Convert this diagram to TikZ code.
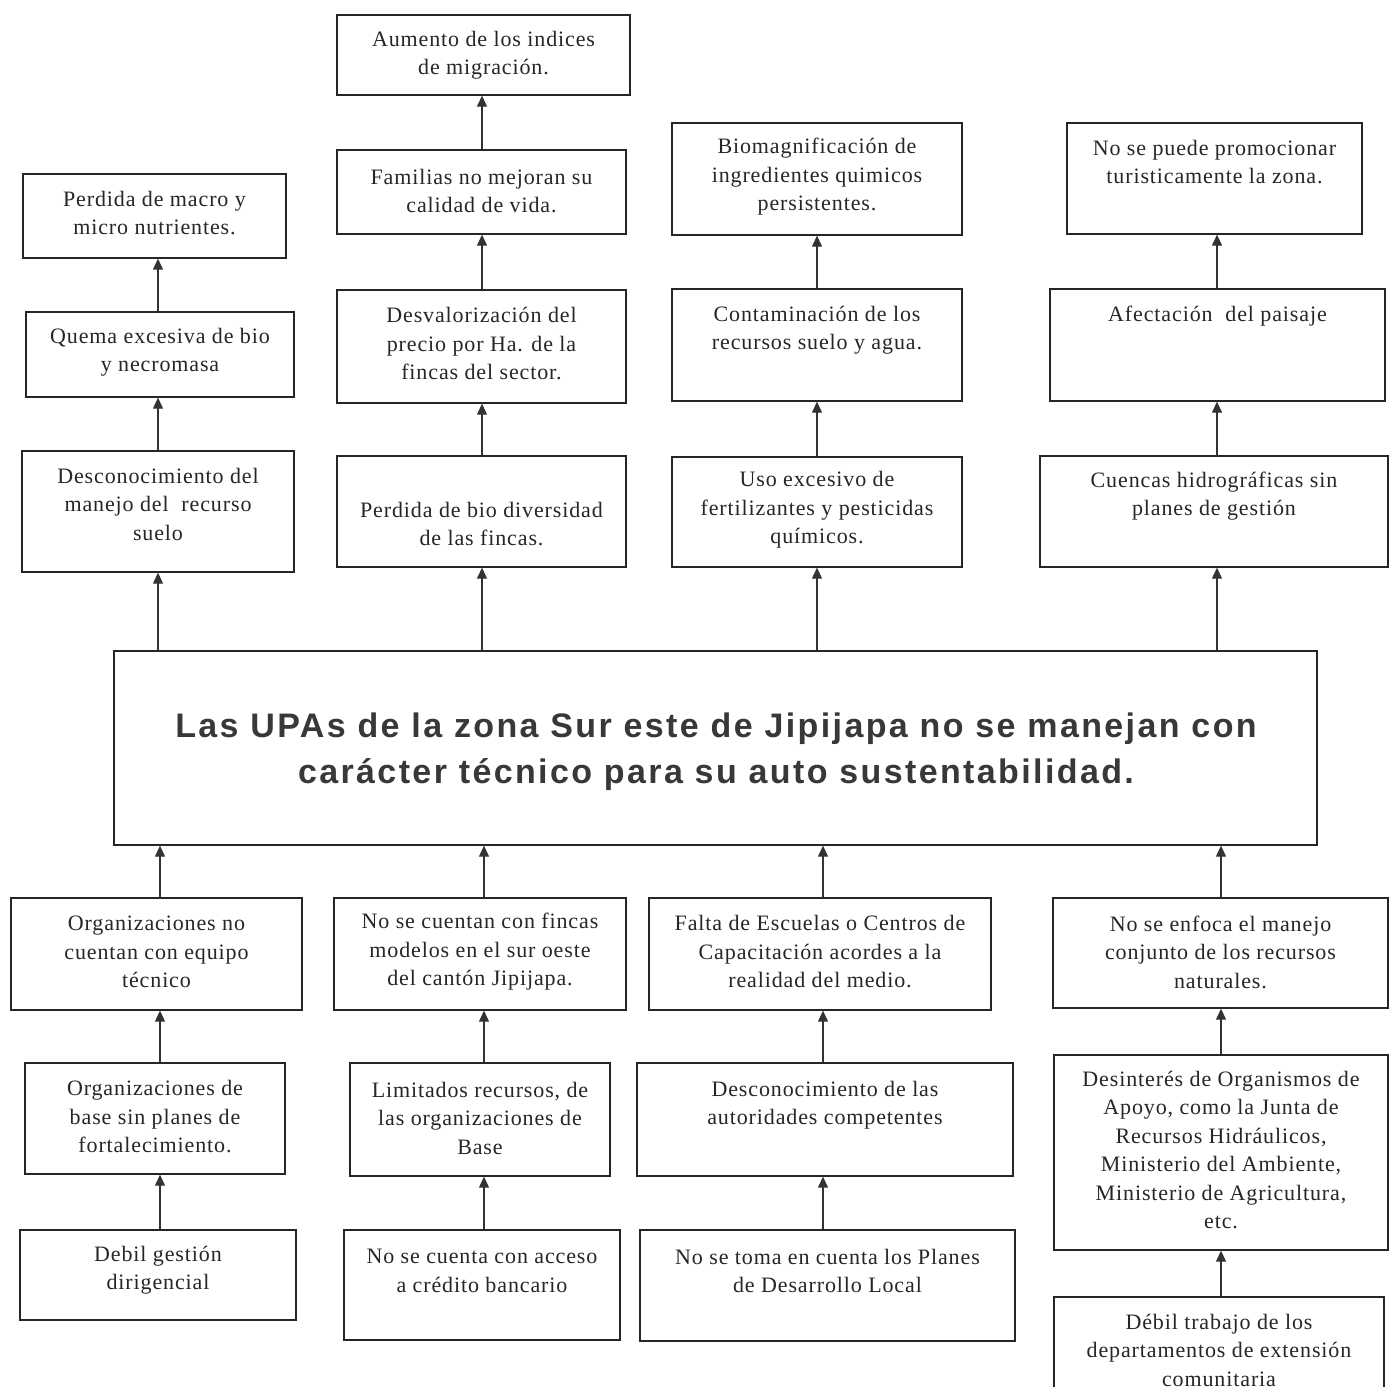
\documentclass[tikz,border=0pt]{standalone}
\usepackage{fontspec}
\setmainfont{Liberation Serif}[LetterSpace=4]
\newfontfamily\headfont{Liberation Sans}[LetterSpace=7]
\usetikzlibrary{arrows.meta,fit}
\tikzset{
  box/.style={draw=black!85, line width=1.3pt, inner sep=0pt, rectangle},
  txt/.style={align=center, font=\fontsize{22}{28.5}\selectfont, text=black!85, inner sep=0pt},
  arr/.style={draw=black!80, line width=1.1pt, -{Triangle[length=11pt,width=10pt]}},
  head/.style={align=center, font=\headfont\bfseries\fontsize{34}{46}\selectfont, text=black!78, inner sep=0pt},
}
\newcommand\bx[7]{%
  \node[box, fit={(#2,#3) (#4,#5)}] (#1) {};
  \node[txt] (#1t) at ({(#2+#4)/2},#6) {#7};
}
\begin{document}
\begin{tikzpicture}[x=1pt,y=-1pt]
\useasboundingbox (0,0) rectangle (1390,1387);
\clip (0,0) rectangle (1390,1387);
\fill[white] (0,0) rectangle (1390,1387);
% column x positions
\coordinate (cA) at (158,0);
\coordinate (cB) at (482,0);
\coordinate (cC) at (817,0);
\coordinate (cD) at (1217,0);
\coordinate (cE) at (160,0);
\coordinate (cF) at (484,0);
\coordinate (cG) at (823,0);
\coordinate (cH) at (1221,0);
% central problem
\node[box, fit={(114,651) (1317,845)}] (core) {};
\node[head] (coret) at (716,752) {Las UPAs de la zona Sur este de Jipijapa no se manejan con\\carácter técnico para su auto sustentabilidad.};
% effects column A
\bx{A1}{23}{174}{286}{258}{213}{Perdida de macro y\\micro nutrientes.}
\bx{A2}{26}{312}{294}{397}{352}{Quema excesiva de bio\\y necromasa}
\bx{A3}{22}{451}{294}{572}{504}{Desconocimiento del\\manejo del~ recurso\\suelo}
% effects column B
\bx{B1}{337}{15}{630}{95}{55}{Aumento de los indices\\de migración.}
\bx{B2}{337}{150}{626}{234}{191}{Familias no mejoran su\\calidad de vida.}
\bx{B3}{337}{290}{626}{403}{344}{Desvalorización del\\precio por Ha. de la\\fincas del sector.}
\bx{B4}{337}{456}{626}{567}{524}{Perdida de bio diversidad\\de las fincas.}
% effects column C
\bx{C1}{672}{123}{962}{235}{177}{Biomagnificación de\\ingredientes quimicos\\persistentes.}
\bx{C2}{672}{289}{962}{401}{330}{Contaminación de los\\recursos suelo y agua.}
\bx{C3}{672}{457}{962}{567}{510}{Uso excesivo de\\fertilizantes y pesticidas\\químicos.}
% effects column D
\bx{D1}{1067}{123}{1362}{234}{162}{No se puede promocionar\\turisticamente la zona.}
\bx{D2}{1050}{289}{1385}{401}{316}{Afectación~ del paisaje}
\bx{D3}{1040}{456}{1388}{567}{496}{Cuencas hidrográficas sin\\planes de gestión}
% causes row 1
\bx{E1}{11}{898}{302}{1010}{952}{Organizaciones no\\cuentan con equipo\\técnico}
\bx{F1}{334}{898}{626}{1010}{952}{No se cuentan con fincas\\modelos en el sur oeste\\del cantón Jipijapa.}
\bx{G1}{649}{898}{991}{1010}{952}{Falta de Escuelas o Centros de\\Capacitación acordes a la\\realidad del medio.}
\bx{H1}{1053}{898}{1388}{1008}{952}{No se enfoca el manejo\\conjunto de los recursos\\naturales.}
% causes row 2
\bx{E2}{25}{1063}{285}{1174}{1117}{Organizaciones de\\base sin planes de\\fortalecimiento.}
\bx{F2}{350}{1063}{610}{1176}{1118}{Limitados recursos, de\\las organizaciones de\\Base}
\bx{G2}{637}{1063}{1013}{1176}{1105}{Desconocimiento de las\\autoridades competentes}
\bx{H2}{1054}{1055}{1388}{1250}{1150}{Desinterés de Organismos de\\Apoyo, como la Junta de\\Recursos Hidráulicos,\\Ministerio del Ambiente,\\Ministerio de Agricultura,\\etc.}
% causes row 3
\bx{E3}{20}{1230}{296}{1320}{1270}{Debil gestión\\dirigencial}
\bx{F3}{344}{1230}{620}{1340}{1271}{No se cuenta con acceso\\a crédito bancario}
\bx{G3}{640}{1230}{1015}{1341}{1271}{No se toma en cuenta los Planes\\de Desarrollo Local}
\bx{H3}{1054}{1297}{1384}{1420}{1350}{Débil trabajo de los\\departamentos de extensión\\comunitaria}
% arrows: effects
\draw[arr] (core.north -| cA) -- (A3.south -| cA);
\draw[arr] (A3.north -| cA) -- (A2.south -| cA);
\draw[arr] (A2.north -| cA) -- (A1.south -| cA);
\draw[arr] (core.north -| cB) -- (B4.south -| cB);
\draw[arr] (B4.north -| cB) -- (B3.south -| cB);
\draw[arr] (B3.north -| cB) -- (B2.south -| cB);
\draw[arr] (B2.north -| cB) -- (B1.south -| cB);
\draw[arr] (core.north -| cC) -- (C3.south -| cC);
\draw[arr] (C3.north -| cC) -- (C2.south -| cC);
\draw[arr] (C2.north -| cC) -- (C1.south -| cC);
\draw[arr] (core.north -| cD) -- (D3.south -| cD);
\draw[arr] (D3.north -| cD) -- (D2.south -| cD);
\draw[arr] (D2.north -| cD) -- (D1.south -| cD);
% arrows: causes
\draw[arr] (E1.north -| cE) -- (core.south -| cE);
\draw[arr] (E2.north -| cE) -- (E1.south -| cE);
\draw[arr] (E3.north -| cE) -- (E2.south -| cE);
\draw[arr] (F1.north -| cF) -- (core.south -| cF);
\draw[arr] (F2.north -| cF) -- (F1.south -| cF);
\draw[arr] (F3.north -| cF) -- (F2.south -| cF);
\draw[arr] (G1.north -| cG) -- (core.south -| cG);
\draw[arr] (G2.north -| cG) -- (G1.south -| cG);
\draw[arr] (G3.north -| cG) -- (G2.south -| cG);
\draw[arr] (H1.north -| cH) -- (core.south -| cH);
\draw[arr] (H2.north -| cH) -- (H1.south -| cH);
\draw[arr] (H3.north -| cH) -- (H2.south -| cH);
\end{tikzpicture}
\end{document}
